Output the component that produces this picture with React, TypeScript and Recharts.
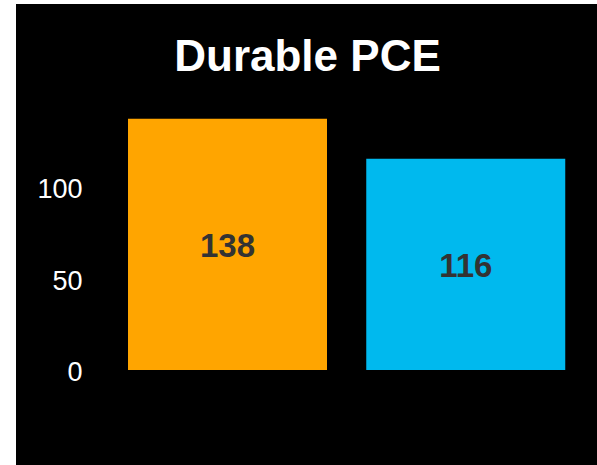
import React from "react";
import { BarChart, Bar, XAxis, YAxis, Cell, LabelList } from "recharts";

const categories = ["A", "B"];
const values = [138, 116];
const colors = ["#FFA500", "#00B9EE"];
const yTicks = [0, 50, 100];
const title = "Durable PCE";

const data = categories.map((c, i) => ({ name: c, value: values[i] }));

export default function App() {
  return (
    <div
      style={{
        position: "absolute",
        left: 16,
        top: 4,
        width: 581,
        height: 461,
        background: "#000",
      }}
    >
      <svg
        width={581}
        height={100}
        style={{ position: "absolute", left: 0, top: 0 }}
      >
        <text
          x={291.5}
          y={67}
          textAnchor="middle"
          fill="#fff"
          fontFamily="Liberation Sans, Arial, sans-serif"
          fontWeight="bold"
          fontSize={44}
        >
          {title}
        </text>
      </svg>
      <BarChart
        width={581}
        height={461}
        data={data}
        margin={{ top: 111, right: 12, bottom: 95, left: 0 }}
        barCategoryGap={19.5}
      >
        <XAxis dataKey="name" hide />
        <YAxis
          width={92.5}
          domain={[0, 140]}
          ticks={yTicks}
          axisLine={false}
          tickLine={false}
          tickSize={0}
          tickMargin={26}
          tick={{
            fill: "#fff",
            fontSize: 27,
            fontFamily: "Liberation Sans, Arial, sans-serif",
            dy: 1,
          }}
        />
        <Bar dataKey="value" isAnimationActive={false}>
          {data.map((d, i) => (
            <Cell key={d.name} fill={colors[i]} />
          ))}
          <LabelList
            dataKey="value"
            position="center"
            fill="#333"
            fontSize={33}
            fontWeight="bold"
            fontFamily="Liberation Sans, Arial, sans-serif"
            dy={1}
          />
        </Bar>
      </BarChart>
    </div>
  );
}
